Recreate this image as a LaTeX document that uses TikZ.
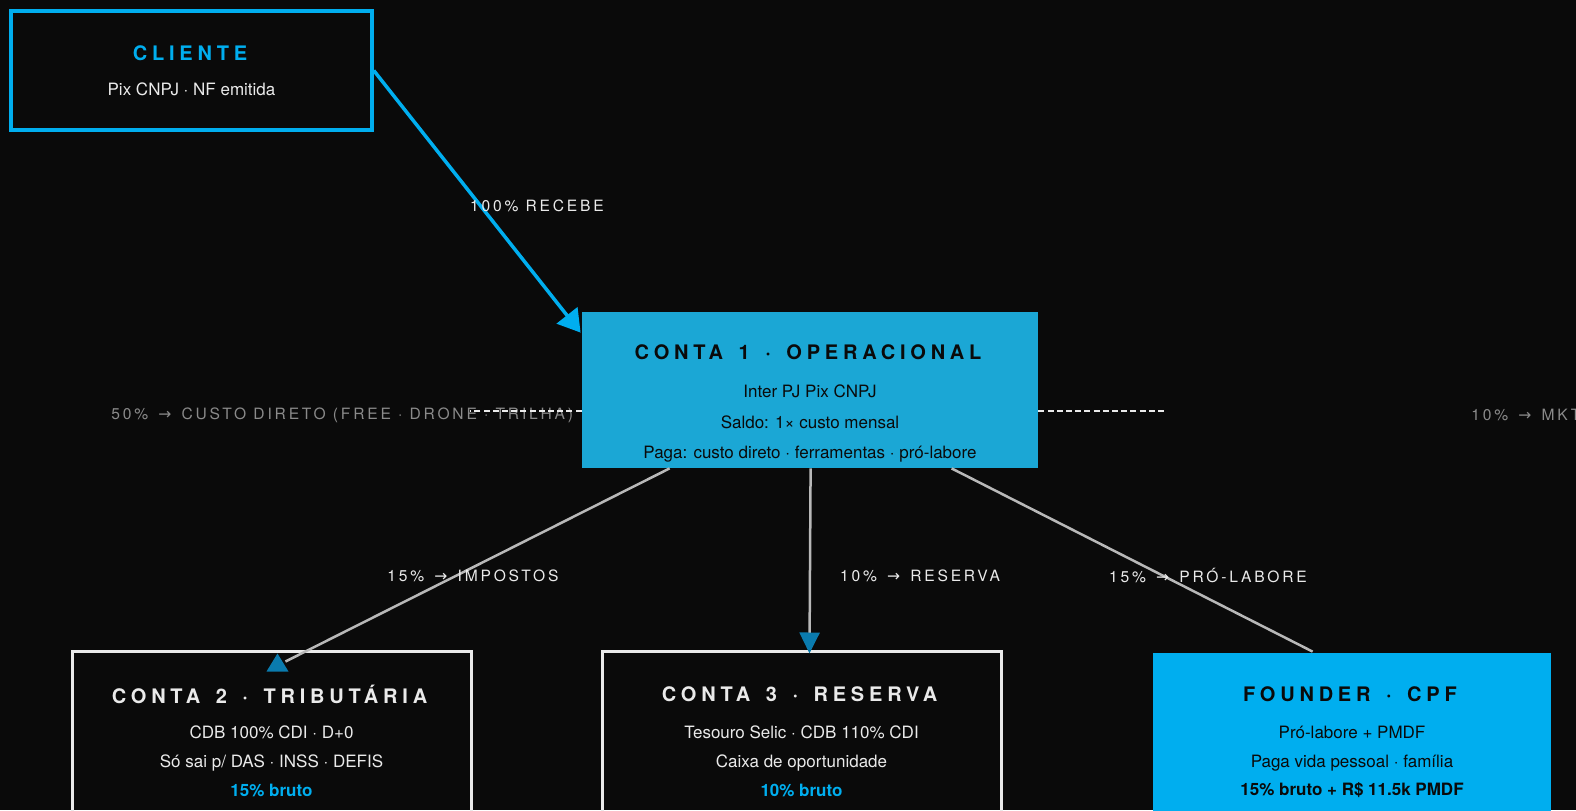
\documentclass[tikz,border=0pt]{standalone}
\usepackage{fontspec}
\setmainfont{TeX Gyre Heros}
\newfontfamily\ttlfont[LetterSpace=24,WordSpace=1.5]{TeX Gyre Heros}
\newfontfamily\lblfont[LetterSpace=18]{TeX Gyre Heros}
\newfontfamily\arrfont{DejaVu Sans}
\usetikzlibrary{calc,arrows.meta}
\definecolor{bg}{HTML}{0A0A0A}
\definecolor{cyanb}{HTML}{00AEEF}
\definecolor{opfill}{HTML}{1BA7D5}
\definecolor{tipblue}{HTML}{0A7BAE}
\definecolor{greyline}{HTML}{B8B8B8}
\definecolor{softwhite}{HTML}{EAEAEA}
\definecolor{dimgrey}{HTML}{8A8A8A}
\definecolor{darktext}{HTML}{0A0A0A}
\newcommand{\ar}{\hspace{1.5pt}{\arrfont →}\hspace{1.5pt}}
\tikzset{
  titletext/.style={font=\ttlfont\bfseries\fontsize{10pt}{12pt}\selectfont, inner sep=0pt, anchor=center},
  bodytext/.style={font=\fontsize{8.5pt}{10pt}\selectfont, inner sep=0pt, anchor=center},
  boldbody/.style={font=\bfseries\fontsize{8.5pt}{10pt}\selectfont, inner sep=0pt, anchor=center},
  edgelabel/.style={font=\lblfont\fontsize{7.8pt}{9pt}\selectfont, text=softwhite, inner sep=0pt, anchor=center},
  sidelabel/.style={font=\lblfont\fontsize{7.8pt}{9pt}\selectfont, text=dimgrey, inner sep=0pt},
  boxbase/.style={rectangle, inner sep=0pt},
  flow/.style={draw=greyline, line width=1.25pt},
}
\begin{document}
\begin{tikzpicture}[x=0.5pt,y=-0.5pt]
\fill[bg] (0,0) rectangle (1576,810);
\useasboundingbox (0,0) rectangle (1576,810);

% boxes
\node[boxbase, draw=cyanb, line width=1.75pt, minimum width=180.5pt, minimum height=59.5pt] (cl) at (191.5,70.5) {};
\node[boxbase, fill=opfill, minimum width=228pt, minimum height=78pt] (c1) at (810,390) {};
\node[boxbase, draw=softwhite, line width=1.5pt, minimum width=199.5pt, minimum height=124.5pt] (c2) at (271.5,775.5) {};
\node[boxbase, draw=softwhite, line width=1.5pt, minimum width=199.5pt, minimum height=124.5pt] (c3) at (801.5,775.5) {};
\node[boxbase, fill=cyanb, minimum width=199pt, minimum height=123.5pt] (fd) at (1352,776.5) {};

% texts
\node[titletext, text=cyanb] (clt) at (190,53) {CLIENTE};
\node[bodytext, text=softwhite] (cls) at (191.5,89) {Pix CNPJ · NF emitida};

\node[titletext, text=darktext] (c1t) at (808,352) {CONTA 1 · OPERACIONAL};
\node[bodytext, text=darktext] (c1a) at (810,391) {Inter PJ Pix CNPJ};
\node[bodytext, text=darktext] (c1b) at (810,422) {Saldo: 1× custo mensal};
\node[bodytext, text=darktext] (c1c) at (810,454) {Paga: custo direto · ferramentas · pró-labore};

\node[titletext, text=softwhite] (c2t) at (269.5,694) {CONTA 2 · TRIBUTÁRIA};
\node[bodytext, text=softwhite] (c2a) at (271.5,732) {CDB 100\% CDI · D+0};
\node[bodytext, text=softwhite] (c2b) at (271.5,763) {Só sai p/ DAS · INSS · DEFIS};
\node[boldbody, text=cyanb] (c2c) at (271.5,790) {15\% bruto};

\node[titletext, text=softwhite] (c3t) at (799.5,694) {CONTA 3 · RESERVA};
\node[bodytext, text=softwhite] (c3a) at (801.5,732) {Tesouro Selic · CDB 110\% CDI};
\node[bodytext, text=softwhite] (c3b) at (801.5,763) {Caixa de oportunidade};
\node[boldbody, text=cyanb] (c3c) at (801.5,790) {10\% bruto};

\node[titletext, text=darktext] (fdt) at (1350,694) {FOUNDER · CPF};
\node[bodytext, text=darktext] (fda) at (1352,732) {Pró-labore + PMDF};
\node[bodytext, text=darktext] (fdb) at (1352,763) {Paga vida pessoal · família};
\node[boldbody, text=darktext] (fdc) at (1352,790) {15\% bruto + R\$ 11.5k PMDF};

% side labels and dashed connectors
\node[sidelabel, anchor=west] (lcusto) at (111,415) {50\% \ar{} CUSTO DIRETO (FREE · DRONE · TRILHA)};
\node[sidelabel, anchor=west] (lmkt) at (1471,415) {10\% \ar{} MKT};
\coordinate (dl) at (470,411);
\coordinate (dr) at (1166,411);
\draw[softwhite, line width=1pt, dash pattern=on 3pt off 1.6pt] ($(c1.west)+(0,21)$) -- (dl);
\draw[softwhite, line width=1pt, dash pattern=on 3pt off 1.6pt] ($(c1.east)+(0,21)$) -- (dr);

% main arrow
\draw[cyanb, line width=1.75pt, -{Triangle[length=11pt,width=13pt]}] (cl.east) -- ($(c1.north west)+(-1,21)$);
\node[edgelabel] (l100) at (537,206) {100\% RECEBE};

% flows
\coordinate (e2) at ($(c2.north west)+(215,12)$);
\draw[flow] ($(c1.south west)+(88,0)$) -- (e2);
\fill[tipblue] ($(c2.north west)+(207,4)$) -- ($(c2.north west)+(218,22)$) -- ($(c2.north west)+(196,22)$) -- cycle;

\draw[flow, -{Triangle[length=10.5pt,width=10pt,color=tipblue]}] ($(c1.south west)+(229,0)$) -- ($(c3.north west)+(209,4)$);

\draw[flow] ($(c1.south west)+(370,0)$) -- ($(fd.north west)+(160,-1)$);

\node[edgelabel] (l15i) at (473,576) {15\% \ar{} IMPOSTOS};
\node[edgelabel] (l10r) at (920,576) {10\% \ar{} RESERVA};
\node[edgelabel] (l15p) at (1208,576) {15\% \ar{} PRÓ-LABORE};
\end{tikzpicture}
\end{document}
